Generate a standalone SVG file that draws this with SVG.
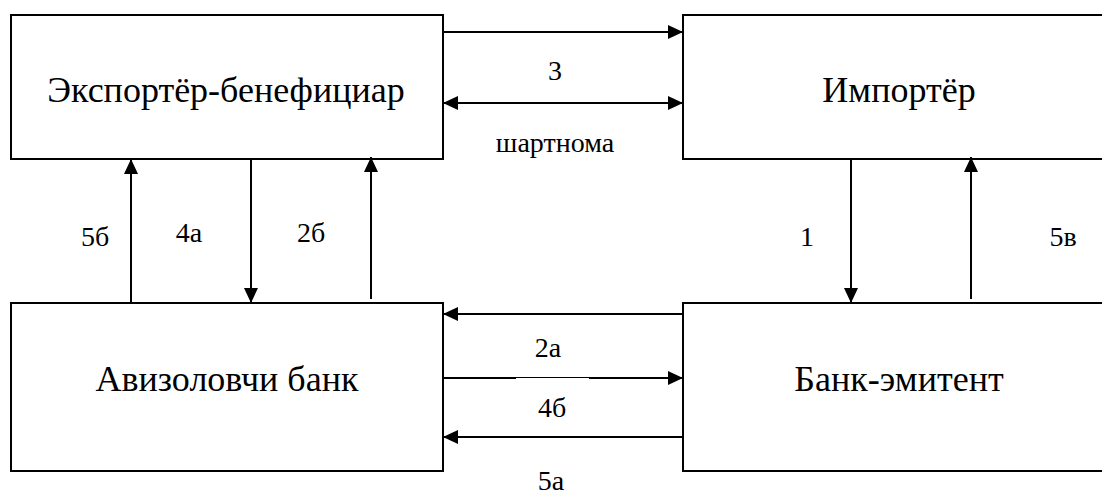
<svg xmlns="http://www.w3.org/2000/svg" width="1102" height="495" viewBox="0 0 1102 495">
<style>
.box{fill:#fff;stroke:#000;stroke-width:2}
.ln{stroke:#000;stroke-width:2;fill:none}
.t{font-size:36px;fill:#000;text-anchor:middle}
.l{font-size:28px;fill:#000;text-anchor:middle}
</style>
<defs>
<marker id="ah" viewBox="0 0 15 14" refX="15" refY="7" markerWidth="15" markerHeight="14" markerUnits="userSpaceOnUse" orient="auto-start-reverse">
<path d="M0,0 L15,7 L0,14 Z" fill="#000"/>
</marker>
</defs>
<rect width="1102" height="495" fill="#fff"/>
<g font-family="Liberation Serif, Tinos, Times New Roman, Times, DejaVu Serif, Noto Serif, FreeSerif, serif">
<g id="exporter"><rect class="box" x="11" y="15" width="432" height="144"/><text class="t" x="226" y="102">Экспортёр-бенефициар</text></g>
<g id="importer"><rect class="box" x="683" y="15" width="432" height="144"/><text class="t" x="899" y="102">Импортёр</text></g>
<g id="advising-bank"><rect class="box" x="11" y="303" width="432" height="168"/><text class="t" x="227" y="391">Авизоловчи банк</text></g>
<g id="issuing-bank"><rect class="box" x="683" y="303" width="432" height="168"/><text class="t" x="899" y="391">Банк-эмитент</text></g>
<g id="connectors">
<line class="ln" x1="443" y1="32" x2="683" y2="32" marker-end="url(#ah)"/>
<line class="ln" x1="443" y1="103" x2="683" y2="103" marker-start="url(#ah)" marker-end="url(#ah)"/>
<line class="ln" x1="131" y1="303" x2="131" y2="159" marker-end="url(#ah)"/>
<line class="ln" x1="251" y1="159" x2="251" y2="303" marker-end="url(#ah)"/>
<line class="ln" x1="371" y1="299" x2="371" y2="157" marker-end="url(#ah)"/>
<line class="ln" x1="851" y1="159" x2="851" y2="303" marker-end="url(#ah)"/>
<line class="ln" x1="971" y1="299" x2="971" y2="157" marker-end="url(#ah)"/>
<line class="ln" x1="683" y1="314" x2="443" y2="314" marker-end="url(#ah)"/>
<line class="ln" x1="443" y1="378" x2="516" y2="378"/>
<line x1="516" y1="377.5" x2="589" y2="377.5" stroke="#000" stroke-width="1"/>
<line class="ln" x1="589" y1="378" x2="683" y2="378" marker-end="url(#ah)"/>
<line class="ln" x1="683" y1="437" x2="443" y2="437" marker-end="url(#ah)"/>
</g>
<g id="labels">
<text class="l" x="555" y="80">3</text>
<text class="l" x="555" y="152">шартнома</text>
<text class="l" x="95" y="246">5б</text>
<text class="l" x="189" y="242">4а</text>
<text class="l" x="311" y="242">2б</text>
<text class="l" x="807" y="246">1</text>
<text class="l" x="1063" y="246">5в</text>
<text class="l" x="548" y="357">2а</text>
<text class="l" x="552" y="417">4б</text>
<text class="l" x="551" y="490">5а</text>
</g>
</g>
</svg>
